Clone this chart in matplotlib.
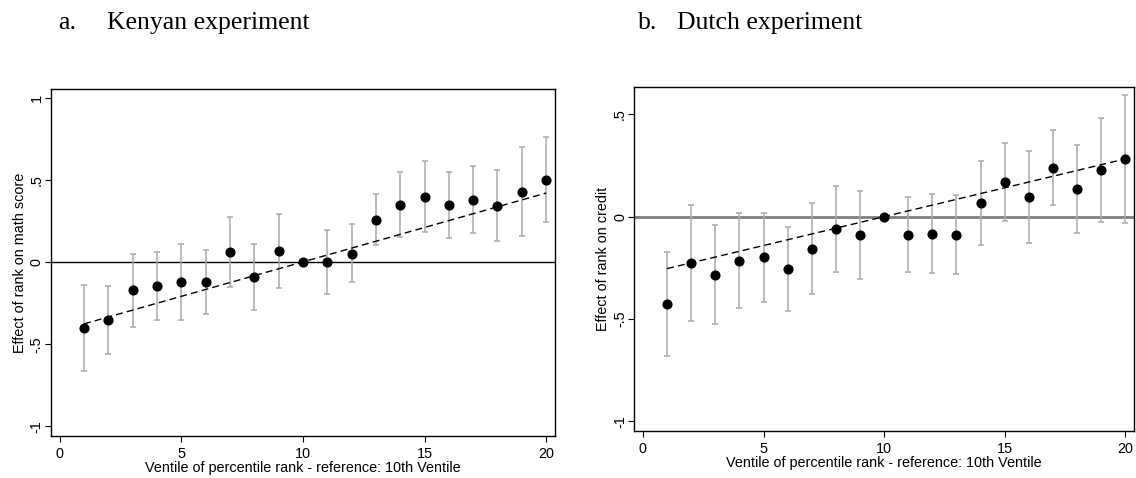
import numpy as np
import matplotlib
matplotlib.use('Agg')
import matplotlib.pyplot as plt

plt.rcParams['font.family'] = ['Liberation Sans', 'DejaVu Sans']

ventile = np.arange(1, 21)

# a. Kenyan experiment
kenya_est = [-0.400, -0.350, -0.172, -0.144, -0.119, -0.121, 0.061, -0.089, 0.065, 0.0,
             0.0, 0.051, 0.259, 0.348, 0.399, 0.346, 0.379, 0.342, 0.429, 0.502]
kenya_hi = [-0.142, -0.144, 0.051, 0.061, 0.113, 0.073, 0.275, 0.113, 0.291, 0.0,
            0.194, 0.229, 0.417, 0.547, 0.613, 0.551, 0.587, 0.559, 0.698, 0.761]
kenya_lo = [-0.664, -0.559, -0.395, -0.350, -0.350, -0.316, -0.154, -0.289, -0.160, 0.0,
            -0.194, -0.123, 0.103, 0.154, 0.186, 0.144, 0.174, 0.126, 0.160, 0.241]
kenya_fit_x = [1, 20]
kenya_fit_y = [-0.376, 0.420]

# b. Dutch experiment
dutch_est = [-0.428, -0.226, -0.283, -0.215, -0.199, -0.257, -0.156, -0.062, -0.088, 0.0,
             -0.088, -0.083, -0.088, 0.067, 0.169, 0.098, 0.239, 0.135, 0.226, 0.282]
dutch_hi = [-0.171, 0.057, -0.039, 0.016, 0.020, -0.052, 0.068, 0.150, 0.127, 0.0,
            0.094, 0.112, 0.107, 0.274, 0.360, 0.322, 0.422, 0.349, 0.480, 0.594]
dutch_lo = [-0.682, -0.510, -0.524, -0.446, -0.417, -0.459, -0.379, -0.272, -0.305, 0.0,
            -0.270, -0.277, -0.280, -0.137, -0.020, -0.127, 0.059, -0.078, -0.026, -0.031]
dutch_fit_x = [1, 20]
dutch_fit_y = [-0.254, 0.282]

yticks = [-1, -0.5, 0, 0.5, 1]
ytick_labels = ['-1', '-.5', '0', '.5', '1']
xticks = [0, 5, 10, 15, 20]
xlabel = 'Ventile of percentile rank - reference: 10th Ventile'


def draw_panel(ax, est, lo, hi, fit_x, fit_y, ylabel, ylim, zero_color, zero_lw):
    est = np.array(est)
    has_ci = np.array(hi) != np.array(lo)
    err = np.vstack([est - np.array(lo), np.array(hi) - est])
    ax.axhline(0, color=zero_color, lw=zero_lw, zorder=1)
    ax.errorbar(ventile[has_ci], est[has_ci], yerr=err[:, has_ci], fmt='none',
                ecolor='#aaaaaa', elinewidth=1.1, capsize=2.5, capthick=1.1, zorder=2)
    ax.plot(fit_x, fit_y, color='black', lw=1.0, dashes=(5, 3), zorder=3)
    ax.plot(ventile, est, 'o', color='black', markersize=6.3, zorder=4)
    ax.set_xlim(-0.37, 20.38)
    ax.set_ylim(*ylim)
    ax.set_xticks(xticks)
    ax.set_xticklabels([str(t) for t in xticks])
    tick_vals = [t for t in yticks if ylim[0] <= t <= ylim[1]]
    ax.set_yticks(tick_vals)
    ax.set_yticklabels([ytick_labels[yticks.index(t)] for t in tick_vals],
                       rotation=90, va='center')
    ax.tick_params(direction='out', length=4, width=0.8, labelsize=10.4)
    ax.tick_params(axis='x', pad=4)
    ax.tick_params(axis='y', pad=1)
    ax.set_xlabel(xlabel, fontsize=10.4, labelpad=0)
    ax.set_ylabel(ylabel, fontsize=10.4, labelpad=2)
    for sp in ax.spines.values():
        sp.set_linewidth(1.0)


fig = plt.figure(figsize=(11.36, 4.78), dpi=100)
ax1 = fig.add_axes([0.0446, 0.0879, 0.4443, 0.7259])
ax2 = fig.add_axes([0.5581, 0.0990, 0.4405, 0.7196])

draw_panel(ax1, kenya_est, kenya_lo, kenya_hi, kenya_fit_x, kenya_fit_y,
           'Effect of rank on math score', (-1.058, 1.053), 'black', 1.0)
draw_panel(ax2, dutch_est, dutch_lo, dutch_hi, dutch_fit_x, dutch_fit_y,
           'Effect of rank on credit', (-1.046, 0.635), '#7f7f7f', 2.0)

serif = ['Liberation Serif', 'DejaVu Serif']
fig.text(58 / 1136, 0.9387, 'a.', family=serif, fontsize=18.5, va='baseline')
fig.text(107 / 1136, 0.9387, 'Kenyan experiment', family=serif, fontsize=18.5, va='baseline')
fig.text(638 / 1136, 0.9387, 'b.', family=serif, fontsize=18.5, va='baseline')
fig.text(677 / 1136, 0.9387, 'Dutch experiment', family=serif, fontsize=18.5, va='baseline')

plt.savefig('out.png', dpi=100)
